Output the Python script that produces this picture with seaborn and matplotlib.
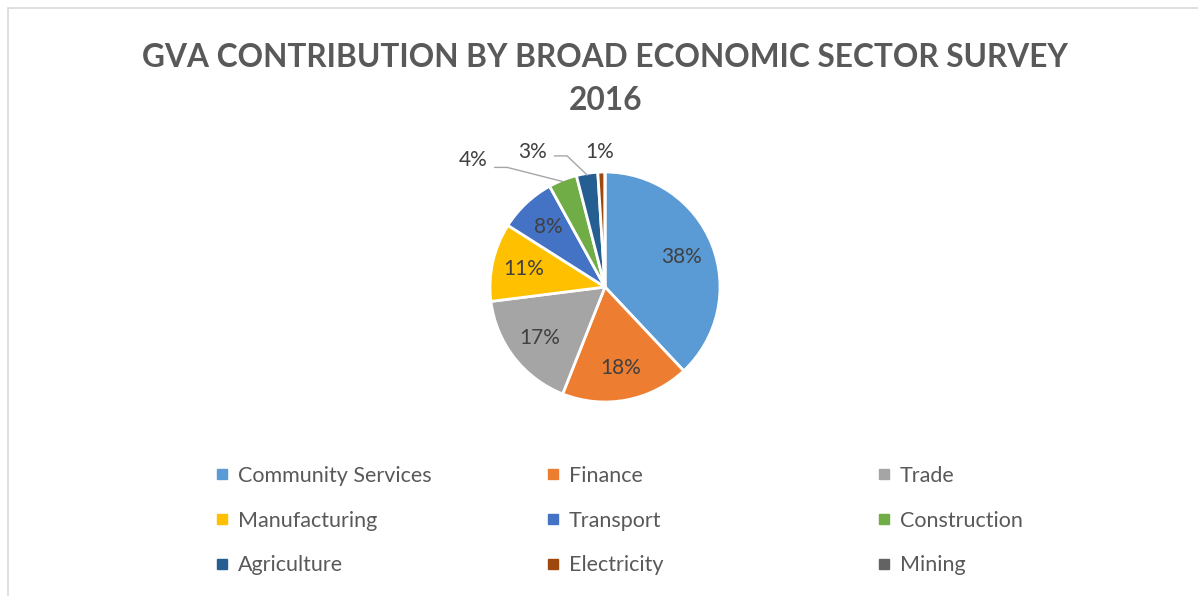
import numpy as np
import matplotlib
matplotlib.use("Agg")
import matplotlib.pyplot as plt
import seaborn as sns
from matplotlib.patches import Rectangle
from matplotlib.lines import Line2D

# GVA share by broad economic sector, 2016 (percent)
sectors = ["Community Services", "Finance", "Trade", "Manufacturing", "Transport",
           "Construction", "Agriculture", "Electricity", "Mining"]
shares = [38, 18, 17, 11, 8, 4, 3, 1, 0]
colors = ["#5B9BD5", "#ED7D31", "#A5A5A5", "#FFC000", "#4472C4",
          "#70AD47", "#255E91", "#9E480E", "#636363"]
title = "GVA CONTRIBUTION BY BROAD ECONOMIC SECTOR SURVEY\n2016"

sns.set_theme(style="white")
plt.rcParams["font.family"] = ["Lato", "DejaVu Sans"]
palette = sns.color_palette(colors)

W, H = 1198, 596
fig = plt.figure(figsize=(W / 100, H / 100), dpi=100)
fig.patch.set_facecolor("white")

# thin chart-area border
fig.add_artist(Rectangle((8 / W, -0.02), 1.0, (H - 8) / H + 0.02,
                         transform=fig.transFigure, fill=False,
                         edgecolor="#D9D9D9", linewidth=1.2))

fig.text(605 / W, 1 - 79 / H, title, ha="center", va="center",
         fontsize=22.8, fontweight="bold", color="#595959", linespacing=1.6)

# pie axes
cx, cy, r = 605, 287, 115
ax = fig.add_axes([(cx - r) / W, (H - cy - r) / H, 2 * r / W, 2 * r / H])
wedges, _ = ax.pie(shares, colors=palette, startangle=90, counterclock=False,
                   radius=1.0, wedgeprops=dict(edgecolor="white", linewidth=2))
for w in wedges:
    w.set_clip_on(False)
ax.set_xlim(-1, 1)
ax.set_ylim(-1, 1)
ax.set_aspect("equal")
ax.axis("off")

label_color = "#404040"
outside = {}
for w, v in zip(wedges, shares):
    if v <= 0:
        continue
    mid = np.deg2rad((w.theta1 + w.theta2) / 2)
    txt = f"{v}%"
    if v >= 5:
        ax.text(0.72 * np.cos(mid), 0.72 * np.sin(mid), txt, ha="center",
                va="center", fontsize=15, color=label_color)
    else:
        outside[v] = mid

# small slices: labels outside with leader lines
out_pos = {4: (-1.15, 1.10), 3: (-0.63, 1.17), 1: (-0.05, 1.17)}
for v, mid in outside.items():
    tx, ty = out_pos[v]
    ax.text(tx, ty, f"{v}%", ha="center", va="center", fontsize=15,
            color=label_color, clip_on=False)
    if v >= 3:
        ex, ey = 0.985 * np.cos(mid), 0.985 * np.sin(mid)
        sx = tx + 0.19
        ly = ty - 0.06 if v == 4 else ty - 0.03
        ax.plot([sx, sx + 0.11, ex], [ly, ly, ey], color="#A6A6A6",
                linewidth=1, clip_on=False)

# legend: three columns, filled row by row
col_x = [216, 547, 878]
for c in range(3):
    idx = [c, c + 3, c + 6]
    handles = [Line2D([], [], marker="s", linestyle="none", markersize=7,
                      markerfacecolor=palette[i], markeredgecolor=palette[i])
               for i in idx]
    fig.legend(handles, [sectors[i] for i in idx], loc="upper left",
               bbox_to_anchor=(col_x[c] / W, 1 - 466 / H), frameon=False,
               fontsize=15.5, labelcolor="#595959", borderpad=0, borderaxespad=0,
               handlelength=0.55, handletextpad=0.45, labelspacing=1.14)

fig.savefig("out.png", dpi=100, facecolor="white")
